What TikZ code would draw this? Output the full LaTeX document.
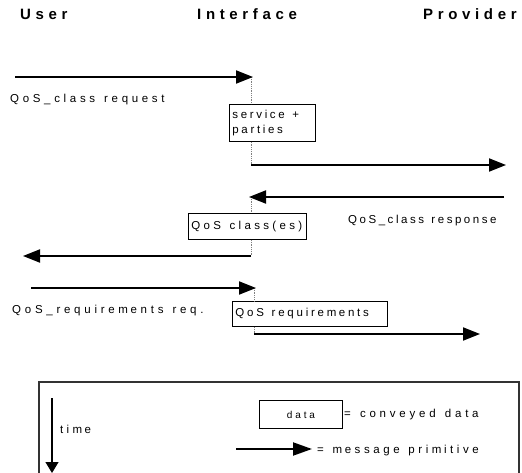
\documentclass[tikz,border=0pt]{standalone}
\usepackage{fontspec}
\setmainfont{Liberation Sans}
\newfontfamily\lblfont[LetterSpace=29, WordSpace=1.3]{Liberation Sans}
\newfontfamily\headfont[LetterSpace=31]{Liberation Sans}
\usetikzlibrary{arrows.meta}
% small gap after "m", as the letters are set in the chart
\newcommand{\mgap}{\kern2.5pt}
% left-set text inside a box of given width
\newcommand{\lefttext}[2]{\makebox[#1][l]{#2}}
% letter tracking for one label
\newcommand{\track}[1]{\addfontfeature{LetterSpace=#1}}

\tikzset{
  msg/.style={line width=2pt, -{Triangle[length=17pt,width=13pt]}},
  lifeline/.style={draw=gray, densely dotted, line width=0.8pt},
  databox/.style={draw, line width=0.9pt, fill=white, inner ysep=0pt, inner xsep=3pt,
    font=\lblfont\fontsize{11.5}{15}\selectfont},
  lbl/.style={inner sep=0pt, anchor=base west, font=\lblfont\fontsize{11.5}{13}\selectfont},
  head/.style={inner sep=0pt, anchor=base west, font=\headfont\bfseries\fontsize{15}{17}\selectfont},
}

\begin{document}
\begin{tikzpicture}[x=1pt,y=-1pt]
\clip (0,0) rectangle (522,473);

% column headings
\node[head] (huser) at (20,20) {User};
\node[head] (hif)   at (197,20) {Interface};
\node[head] (hprov) at (423,20) {Provider};

% message end points
\coordinate (u1) at (15,77);   \coordinate (i1) at (253,77);
\coordinate (i2) at (251,165); \coordinate (p2) at (506,165);
\coordinate (p3) at (504,197); \coordinate (i3) at (249,197);
\coordinate (i4) at (251,256); \coordinate (u4) at (23,256);
\coordinate (u5) at (31,288);  \coordinate (i5) at (256,288);
\coordinate (i6) at (254,334); \coordinate (p6) at (480,334);

% data conveyed at the interface
\node[databox, anchor=north west, minimum width=86pt, minimum height=37pt] (sp) at (229,104)
  {\track{23}\lefttext{80pt}{\begin{tabular}{@{}l@{}}service +\\parties\end{tabular}}};
\node[databox, anchor=north west, minimum width=118pt, minimum height=26pt] (qc) at (188,213)
  {\track{29}\lefttext{112pt}{QoS class(es)}};
\node[databox, anchor=north west, minimum width=155pt, minimum height=25pt] (qr) at (232,301)
  {\track{24}\lefttext{149pt}{QoS requirem\mgap ents}};

% interface lifeline segments
\draw[lifeline] (251,77) -- (sp.north -| 251,0);
\draw[lifeline] (sp.south -| 251,0) -- (i2);
\draw[lifeline] (251,197) -- (qc.north -| 251,0);
\draw[lifeline] (qc.south -| 251,0) -- (i4);
\draw[lifeline] (254,288) -- (qr.north -| 254,0);
\draw[lifeline] (qr.south -| 254,0) -- (i6);

% message primitives
\draw[msg] (u1) -- (i1);
\draw[msg] (i2) -- (p2);
\draw[msg] (p3) -- (i3);
\draw[msg] (i4) -- (u4);
\draw[msg] (u5) -- (i5);
\draw[msg] (i6) -- (p6);

% primitive names
\node[lbl] (l1) at (10,103) {\track{32}QoS\_class request};
\node[lbl] (l3) at (348,223) {\track{22}QoS\_class response};
\node[lbl] (l5) at (12,313) {\track{32.5}QoS\_requirem\mgap ents req.};

% legend
\draw[line width=1.2pt, draw=black!80] (39,382) rectangle (519,495);
\coordinate (t0) at (52,398); \coordinate (t1) at (52,473);
\draw[line width=1.2pt, -{Triangle[length=11pt,width=13pt]}] (t0) -- (t1);
\node[lbl] (ltime) at (60,433) {tim\mgap e};
\node[databox, anchor=north west, minimum width=83pt, minimum height=28pt,
      font=\lblfont\fontsize{10}{12}\selectfont] (ld) at (259,400) {data};
\node[lbl] (ldtext) at (344,417) {\track{33}= conveyed data};
\coordinate (m0) at (236,449); \coordinate (m1) at (312,449);
\draw[line width=2pt, -{Triangle[length=19pt,width=13pt]}] (m0) -- (m1);
\node[lbl] (lmtext) at (317,453) {\track{31}= m\mgap essage prim\mgap itive};
\end{tikzpicture}
\end{document}
